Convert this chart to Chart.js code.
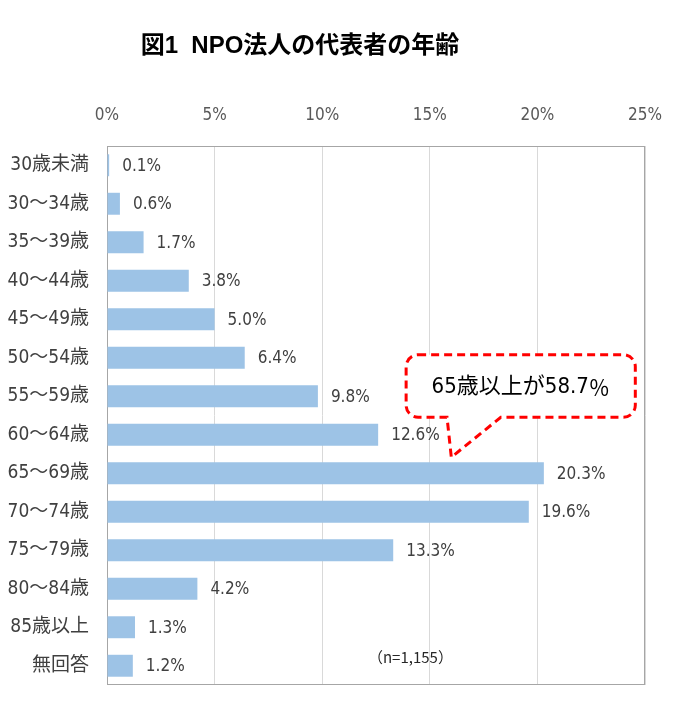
<!DOCTYPE html>
<html>
<head>
<meta charset="utf-8">
<script src="https://cdn.jsdelivr.net/npm/chart.js@4/dist/chart.umd.min.js"></script>
<style>
  body { margin: 0; background: #fff; }
</style>
</head>
<body>
<canvas id="ageChart" width="684" height="716"></canvas>
<script>
var categories = ['30歳未満', '30～34歳', '35～39歳', '40～44歳', '45～49歳', '50～54歳', '55～59歳',
    '60～64歳', '65～69歳', '70～74歳', '75～79歳', '80～84歳', '85歳以上', '無回答'];
var shares = [0.1, 0.6, 1.7, 3.8, 5.0, 6.4, 9.8, 12.6, 20.3, 19.6, 13.3, 4.2, 1.3, 1.2];
var xTicks = [0, 5, 10, 15, 20, 25];

var titleText = '図1  NPO法人の代表者の年齢';
var noteText = '（n=1,155）';
var calloutText = '65歳以上が58.7';
var calloutUnit = '％';

var baseFont = '"DejaVu Sans Condensed", "Noto Sans CJK JP", sans-serif';
var cjkFont = '"Noto Sans CJK JP", sans-serif';

// title, frame, value labels, note and callout
var decorations = {
    id: 'decorations',
    beforeDatasetsDraw: function (chart) {
        var a = chart.chartArea, c = chart.ctx;
        c.save();
        c.strokeStyle = '#A6A6A6';
        c.lineWidth = 1;
        c.strokeRect(a.left + 0.5, a.top + 0.5, a.right - a.left - 1, a.bottom - a.top - 1);
        c.restore();
    },
    afterDatasetsDraw: function (chart) {
        var c = chart.ctx;
        var xs = chart.scales.x, ys = chart.scales.y;
        c.save();

        // value labels
        c.font = '17px ' + baseFont;
        c.fillStyle = '#404040';
        c.textBaseline = 'middle';
        c.textAlign = 'left';
        chart.getDatasetMeta(0).data.forEach(function (bar, i) {
            c.fillText(shares[i].toFixed(1) + '%', bar.x + 13, bar.y + 1);
        });

        // title
        c.font = 'bold 24px "Liberation Sans", "Noto Sans CJK JP", sans-serif';
        c.fillStyle = '#000';
        c.textAlign = 'center';
        c.fillText(titleText, 300, 46);

        // sample size
        c.font = '15px ' + cjkFont;
        c.fillStyle = '#262626';
        c.fillText(noteText, xs.getPixelForValue(14.1), ys.getPixelForValue(13) - 8);

        // callout
        var x1 = xs.getPixelForValue(13.9), x2 = xs.getPixelForValue(24.55);
        var y1 = ys.getPixelForValue(5) - 3, y2 = ys.getPixelForValue(6) + 21;
        var p1 = xs.getPixelForValue(15.8), p2 = xs.getPixelForValue(18.3);
        var tx = xs.getPixelForValue(16.0), ty = ys.getPixelForValue(8) - 16;
        var r = 12;
        c.beginPath();
        c.moveTo(x1 + r, y1);
        c.lineTo(x2 - r, y1);
        c.arcTo(x2, y1, x2, y1 + r, r);
        c.lineTo(x2, y2 - r);
        c.arcTo(x2, y2, x2 - r, y2, r);
        c.lineTo(p2, y2);
        c.lineTo(tx, ty);
        c.lineTo(p1, y2);
        c.lineTo(x1 + r, y2);
        c.arcTo(x1, y2, x1, y2 - r, r);
        c.lineTo(x1, y1 + r);
        c.arcTo(x1, y1, x1 + r, y1, r);
        c.closePath();
        c.fillStyle = '#fff';
        c.fill();
        c.setLineDash([8, 5]);
        c.lineWidth = 3;
        c.strokeStyle = '#FF0000';
        c.stroke();
        c.setLineDash([]);

        c.fillStyle = '#000';
        c.textAlign = 'left';
        c.font = '22px ' + baseFont;
        var w1 = c.measureText(calloutText).width;
        c.font = '21px ' + cjkFont;
        var w2 = c.measureText(calloutUnit).width;
        var sx = (x1 + x2) / 2 - (w1 + w2) / 2;
        var sy = (y1 + y2) / 2 + 1;
        c.font = '22px ' + baseFont;
        c.fillText(calloutText, sx, sy);
        c.font = '21px ' + cjkFont;
        c.fillText(calloutUnit, sx + w1, sy);
        c.restore();
    }
};

var ctx = document.getElementById('ageChart').getContext('2d');
var ageChart = new Chart(ctx, {
    type: 'bar',
    data: {
        labels: categories,
        datasets: [{
            label: '代表者の年齢',
            data: shares,
            backgroundColor: '#9DC3E6',
            borderWidth: 0,
            categoryPercentage: 1,
            barPercentage: 0.57
        }]
    },
    options: {
        indexAxis: 'y',
        responsive: false,
        animation: false,
        layout: {
            padding: { top: 100, right: 39, bottom: 31, left: 0 }
        },
        plugins: {
            legend: { display: false },
            tooltip: { enabled: false }
        },
        scales: {
            x: {
                position: 'top',
                min: 0,
                max: 25,
                afterBuildTicks: function (axis) {
                    axis.ticks = xTicks.map(function (v) { return { value: v }; });
                },
                afterFit: function (axis) { axis.height = 46; },
                ticks: {
                    callback: function (v) { return v + '%'; },
                    font: { size: 17, family: baseFont },
                    color: '#595959',
                    padding: 20,
                    maxRotation: 0
                },
                grid: { color: '#D9D9D9', drawTicks: false },
                border: { display: false }
            },
            y: {
                afterFit: function (axis) { axis.width = 107; },
                ticks: {
                    font: { size: 19, family: baseFont },
                    color: '#404040',
                    padding: 18
                },
                grid: { display: false, drawTicks: false },
                border: { display: false }
            }
        }
    },
    plugins: [decorations]
});
</script>
</body>
</html>
